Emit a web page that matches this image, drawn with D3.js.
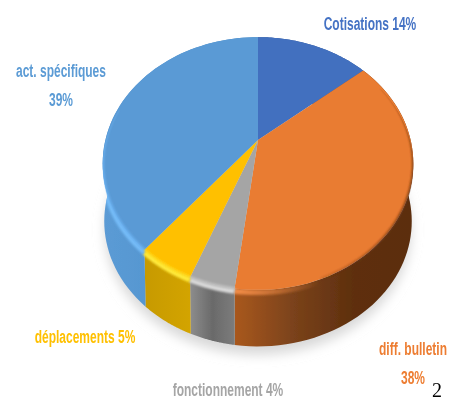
<!DOCTYPE html>
<html><head><meta charset="utf-8">
<script src="https://cdnjs.cloudflare.com/ajax/libs/d3/7.8.5/d3.min.js"></script>
<style>html,body{margin:0;padding:0;background:#fff;overflow:hidden}svg{display:block}
text{font-family:"Liberation Sans Narrow","Liberation Sans",sans-serif;font-weight:700;text-anchor:middle}</style>
</head><body><svg id="c" width="464" height="401"></svg>
<script>
const categories=["Cotisations","diff. bulletin","fonctionnement","déplacements","act. spécifiques"];
const values=[14,38,4,5,39];
const topColors=["#4270bf","#e97b31","#a5a5a5","#ffc000","#5a9ad5"];
const rimColors=["#4270bf","#ef8a45","#d8d8d8","#ffe93a","#74bbf7"];
const sideStops=[["#2f5597","#2f5597"],["#a9581f","#7a421a","#5e2f0e","#5c2f10"],["#8d8d8d","#6a6a6a","#7c7c7c"],["#c79a00","#d3a400"],["#5b9bd5","#5394ce","#4787c1"]];
const labelLines=[["Cotisations 14%"],["diff. bulletin","38%"],["fonctionnement 4%"],["déplacements 5%"],["act. spécifiques","39%"]];
const labelX=[370,413,228,85,61];
const labelY=[30,355,396.5,343,77];
const labelFill=["#4472c4","#ed7d31","#a5a5a5","#ffc000","#5b9bd5"];

const W=464,H=401,cx=258,cy=140,R=152.6,V=122,k=0.186,depth=58;
const rad=d=>d*Math.PI/180;
const svg=d3.select("#c");
const defs=svg.append("defs");
defs.append("filter").attr("id","b1").append("feGaussianBlur").attr("stdDeviation",0.55);
defs.append("filter").attr("id","b2").attr("filterUnits","userSpaceOnUse").attr("x",0).attr("y",0).attr("width",W).attr("height",H).append("feGaussianBlur").attr("stdDeviation",1.3);
defs.append("filter").attr("id","b8").attr("x","-30%").attr("y","-30%").attr("width","160%").attr("height","160%").append("feGaussianBlur").attr("stdDeviation",6);
defs.append("filter").attr("id","bt").append("feGaussianBlur").attr("stdDeviation",0.45);
function fadeGrad(id,c,x1,x2,o1,o2){
  const gr=defs.append("linearGradient").attr("id",id).attr("gradientUnits","userSpaceOnUse")
    .attr("x1",x1).attr("x2",x2).attr("y1",0).attr("y2",0);
  gr.append("stop").attr("offset",0).attr("stop-color",c).attr("stop-opacity",o1);
  gr.append("stop").attr("offset",1).attr("stop-color",c).attr("stop-opacity",o2);
}
fadeGrad("orangeBevel","#ef8a45",238,320,1,0);
fadeGrad("orangeShade","#6a3512",290,400,0,0.85);

const pie=d3.pie().sort(null).value(d=>d);
const arcs=pie(values);
function proj(a,r=1,dy=0,sc=1){
  const x=Math.sin(a)*r,y=Math.cos(a)*r,s=1/(1+k*y);
  return [cx+R*sc*x*s,cy-V*sc*y*s+dy];
}
const line=d3.line();
const samples=(a0,a1,n=60)=>d3.range(n+1).map(i=>a0+(a1-a0)*i/n);

const g=svg.append("g").attr("filter","url(#b1)");
g.append("path").attr("d",line(samples(0,2*Math.PI,180).map(a=>proj(a,1,depth+9,0.985))))
 .attr("fill","#d8d8d8").attr("filter","url(#b8)");

arcs.forEach((d,i)=>{
  const top=samples(d.startAngle,d.endAngle).map(a=>proj(a));
  const bot=samples(d.endAngle,d.startAngle).map(a=>proj(a,1,depth,0.99));
  const xs=top.concat(bot).map(p=>p[0]);
  const id="sg"+i;
  const gr=defs.append("linearGradient").attr("id",id).attr("gradientUnits","userSpaceOnUse")
    .attr("x1",d3.min(xs)).attr("x2",d3.max(xs)).attr("y1",0).attr("y2",0);
  sideStops[i].forEach((c,j,a)=>gr.append("stop").attr("offset",j/(a.length-1)).attr("stop-color",c));
  g.append("path").attr("d",line(top.concat(bot))+"Z").attr("fill","url(#"+id+")");
});

// Bevel band just under the front edge
const clip=defs.append("clipPath").attr("id","front");
clip.append("path").attr("d",line(samples(0,2*Math.PI,180).map(a=>proj(a,1,depth,0.99)))+"Z");
const rimG=g.append("g").attr("clip-path","url(#front)");
[[110,187.2,"url(#orangeBevel)"],[187.2,201.6,rimColors[2]],[201.6,219.6,rimColors[3]],[219.6,262,rimColors[4]]].forEach(([a0,a1,c])=>{
  rimG.append("path").attr("d",line(samples(rad(a0),rad(a1)).map(a=>proj(a,1,2.5))))
    .attr("fill","none").attr("stroke",c).attr("stroke-width",5.5).attr("filter","url(#b2)");
});

arcs.forEach((d,i)=>{
  g.append("path").attr("d",line([proj(0,0)].concat(samples(d.startAngle,d.endAngle).map(a=>proj(a))))+"Z")
   .attr("fill",topColors[i]);
});

// Thin highlight / shade along the top edge
const clipTop=defs.append("clipPath").attr("id","topc");
clipTop.append("path").attr("d",line(samples(0,2*Math.PI,180).map(a=>proj(a,1,3)))+"Z");
const shade=g.append("g").attr("clip-path","url(#topc)");
[[187.2,201.6,"#c4c4c4"],[201.6,219.6,"#ffdc20"],[219.6,285,"#6cb2f2"],[62,160,"url(#orangeShade)"]].forEach(([a0,a1,c])=>{
  shade.append("path").attr("d",line(samples(rad(a0),rad(a1)).map(a=>proj(a))))
   .attr("fill","none").attr("stroke",c).attr("stroke-width",2.4).attr("filter","url(#b2)");
});

const lg=svg.append("g").attr("filter","url(#bt)");
labelLines.forEach((ls,i)=>ls.forEach((t,j)=>{
  lg.append("text").attr("transform",`translate(${labelX[i]},${labelY[i]+j*29}) scale(0.75,1.18)`)
    .attr("font-size",16).attr("fill",labelFill[i]).text(t);
}));
svg.append("text").attr("x",437).attr("y",396.5).attr("font-size",20)
  .style("font-family","'Liberation Serif',serif").style("font-weight",400).attr("fill","#000").text("2");
</script></body></html>
